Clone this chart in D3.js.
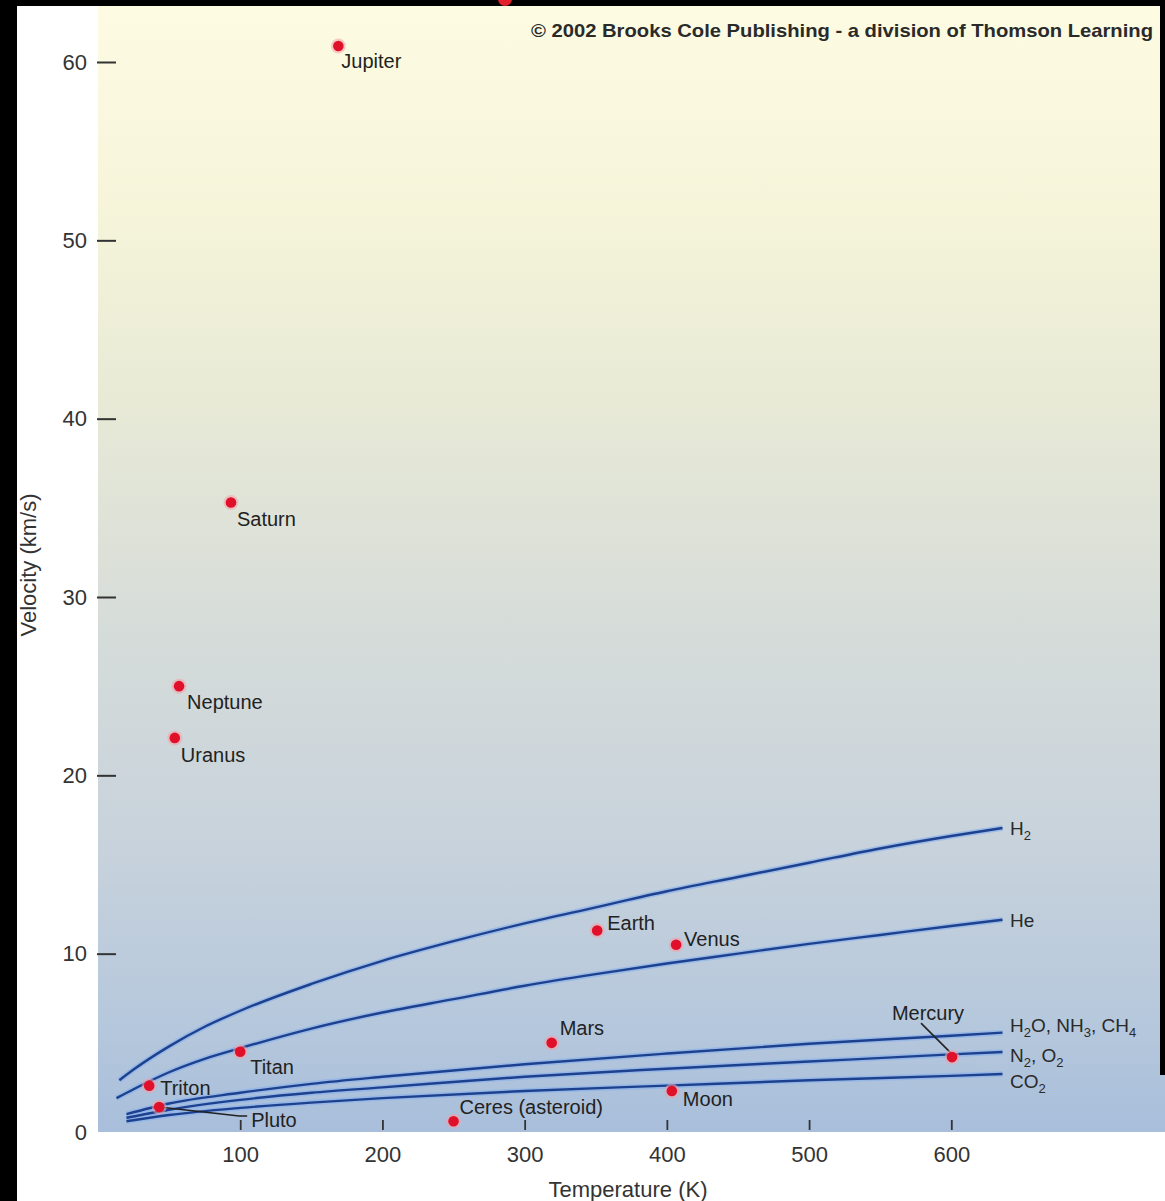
<!DOCTYPE html>
<html>
<head>
<meta charset="utf-8">
<script src="https://cdn.jsdelivr.net/npm/d3@7"></script>
<style>
  html, body { margin: 0; padding: 0; background: #000; }
  svg { display: block; }
  text { font-family: "Liberation Sans", Arial, Helvetica, sans-serif; fill: #222; }
</style>
</head>
<body>
<svg id="chart" width="1165" height="1201"></svg>
<script>
// ---------------- data ----------------
const bodyNames = ["Jupiter", "Saturn", "Neptune", "Uranus", "Earth", "Venus", "Mars",
                   "Mercury", "Moon", "Ceres (asteroid)", "Titan", "Triton", "Pluto"];
const bodyTemps = [169, 93.5, 57, 54, 351, 406.5, 319, 600.5, 403.5, 250, 100, 36, 43];
const bodyVels  = [60.9, 35.3, 25.0, 22.1, 11.3, 10.5, 5.0, 4.2, 2.3, 0.6, 4.5, 2.6, 1.4];

const h2Temps = [15, 25, 50, 75, 100, 150, 200, 250, 300, 350, 400, 450, 500, 550, 600, 636];
const h2Vels  = [2.9, 3.5, 4.8, 5.9, 6.8, 8.3, 9.6, 10.7, 11.7, 12.6, 13.5, 14.3, 15.1, 15.9, 16.6, 17.05];

const heTemps = [13, 25, 50, 75, 100, 150, 200, 250, 300, 350, 400, 450, 500, 550, 600, 636];
const heVels  = [1.9, 2.4, 3.35, 4.1, 4.7, 5.8, 6.7, 7.45, 8.2, 8.85, 9.45, 10.0, 10.55, 11.05, 11.55, 11.9];

const lowTemps = [20, 50, 100, 150, 200, 300, 400, 500, 600, 636];
const h2oVels  = [1.0, 1.6, 2.2, 2.7, 3.1, 3.8, 4.4, 4.95, 5.4, 5.57];
const n2Vels   = [0.8, 1.25, 1.8, 2.2, 2.5, 3.1, 3.55, 3.95, 4.35, 4.49];
const co2Vels  = [0.6, 0.95, 1.35, 1.65, 1.9, 2.3, 2.6, 2.9, 3.15, 3.25];

const xTicks = [100, 200, 300, 400, 500, 600];
const yTicks = [0, 10, 20, 30, 40, 50, 60];

const xTitle = "Temperature (K)";
const yTitle = "Velocity (km/s)";
const credit = "\u00A9 2002 Brooks Cole Publishing - a division of Thomson Learning";

// gas labels: [text, kind] pieces
const gasLabels = [
  [["H", ""], ["2", "sub"]],
  [["He", ""]],
  [["H", ""], ["2", "sub"], ["O, NH", ""], ["3", "sub"], [", CH", ""], ["4", "sub"]],
  [["N", ""], ["2", "sub"], [", O", ""], ["2", "sub"]],
  [["CO", ""], ["2", "sub"]]
];

// ---------------- layout ----------------
const W = 1165, H = 1201;
const plotL = 98, plotR = 1165, plotT = 6, plotB = 1132;

const x = d3.scaleLinear().domain([0, 600]).range([plotL, 951.3]);
const y = d3.scaleLinear().domain([0, 60]).range([plotB, 62]);

const svg = d3.select("#chart");
const defs = svg.append("defs");
const grad = defs.append("linearGradient").attr("id", "bg")
  .attr("x1", 0).attr("y1", 0).attr("x2", 0).attr("y2", 1);
[[0, "#fdfce3"], [0.18, "#f6f5da"], [0.35, "#e8ead6"], [0.55, "#d6dcd9"],
 [0.75, "#c7d2dc"], [0.9, "#b6c8dc"], [1, "#a8bedb"]].forEach(s =>
  grad.append("stop").attr("offset", s[0]).attr("stop-color", s[1]));

// frame
svg.append("rect").attr("width", W).attr("height", H).attr("fill", "#000");
svg.append("rect").attr("x", 17).attr("y", 6).attr("width", W - 17).attr("height", H - 6).attr("fill", "#fff");
svg.append("rect").attr("x", plotL).attr("y", plotT).attr("width", plotR - plotL).attr("height", plotB - plotT)
  .attr("fill", "url(#bg)");
svg.append("rect").attr("x", 1160).attr("y", 0).attr("width", 5).attr("height", 1075).attr("fill", "#000");
svg.append("circle").attr("cx", 505).attr("cy", -1).attr("r", 7).attr("fill", "#e3202b");

// credit
svg.append("text").attr("x", 1153).attr("y", 37).attr("text-anchor", "end")
  .attr("font-size", 19).attr("font-weight", "bold").style("fill", "#2a2a2a")
  .attr("textLength", 622).attr("lengthAdjust", "spacingAndGlyphs")
  .text(credit);

// y axis (ticks pointing into plot)
const gy = svg.append("g").attr("transform", `translate(${plotL - 1},0)`)
  .call(d3.axisRight(y).tickValues(yTicks).tickSize(19).tickFormat(d3.format("d")));
gy.select(".domain").remove();
gy.selectAll(".tick line").attr("stroke", "#333").attr("stroke-width", 2)
  .attr("display", d => d === 0 ? "none" : null);
gy.selectAll(".tick text").attr("x", -10).attr("text-anchor", "end")
  .attr("font-size", 22).attr("font-family", "Liberation Sans, Arial, sans-serif")
  .style("fill", "#333");

// x axis (ticks pointing into plot, labels below)
const gx = svg.append("g").attr("transform", `translate(0,${plotB})`)
  .call(d3.axisTop(x).tickValues(xTicks).tickSize(12).tickFormat(d3.format("d")));
gx.select(".domain").remove();
gx.selectAll(".tick line").attr("stroke", "#333").attr("stroke-width", 1.8).attr("y1", -2);
gx.selectAll(".tick text").attr("y", 30).attr("dy", 0)
  .attr("font-size", 22).attr("font-family", "Liberation Sans, Arial, sans-serif")
  .style("fill", "#333");

// axis titles
svg.append("text").attr("x", 628).attr("y", 1197).attr("text-anchor", "middle")
  .attr("font-size", 22).style("fill", "#333").text(xTitle);
svg.append("text").attr("transform", "translate(36,565) rotate(-90)").attr("text-anchor", "middle")
  .attr("font-size", 22).style("fill", "#333").text(yTitle);

// curves
const line = d3.line().x(d => x(d[0])).y(d => y(d[1])).curve(d3.curveMonotoneX);
const curves = [
  d3.zip(h2Temps, h2Vels),
  d3.zip(heTemps, heVels),
  d3.zip(lowTemps, h2oVels),
  d3.zip(lowTemps, n2Vels),
  d3.zip(lowTemps, co2Vels)
];
const gc = svg.append("g");
curves.forEach(c => {
  gc.append("path").attr("d", line(c)).attr("fill", "none")
    .attr("stroke", "#8db3ea").attr("stroke-width", 5.5).attr("stroke-opacity", 0.75);
});
curves.forEach(c => {
  gc.append("path").attr("d", line(c)).attr("fill", "none")
    .attr("stroke", "#1d418f").attr("stroke-width", 2.4);
});

// gas labels
const gasLabelY = [17.05, 11.9, 6.0, 4.3, 2.85];
gasLabels.forEach((parts, i) => {
  const t = svg.append("text").attr("x", 1010).attr("y", y(gasLabelY[i]) + 7)
    .attr("font-size", 19).style("fill", "#2a2a2a");
  parts.forEach((p, j) => {
    if (p[1] === "sub") {
      t.append("tspan").attr("font-size", 13).attr("dy", 5).text(p[0]);
    } else {
      const ts = t.append("tspan").text(p[0]);
      if (j > 0) ts.attr("dy", -5);
    }
  });
});

// label placement relative to each point: [dx, dy(center), anchor]
const labelLayout = {
  "Jupiter": [3, 15, "start"],
  "Saturn": [6, 17, "start"],
  "Neptune": [8, 16, "start"],
  "Uranus": [6, 17, "start"],
  "Earth": [10, -7, "start"],
  "Venus": [8, -6, "start"],
  "Mars": [8, -15, "start"],
  "Mercury": [-24, -44, "middle"],
  "Moon": [11, 8, "start"],
  "Ceres (asteroid)": [6, -14, "start"],
  "Titan": [10, 15, "start"],
  "Triton": [11, 2, "start"],
  "Pluto": [92, 13, "start"]
};

// leader lines
const pluto = bodyNames.indexOf("Pluto");
svg.append("path")
  .attr("d", `M${x(bodyTemps[pluto])},${y(bodyVels[pluto])} L${x(bodyTemps[pluto]) + 80},${y(bodyVels[pluto]) + 9} L${x(bodyTemps[pluto]) + 88},${y(bodyVels[pluto]) + 9}`)
  .attr("stroke", "#222").attr("stroke-width", 1.6).attr("fill", "none");
const merc = bodyNames.indexOf("Mercury");
svg.append("path")
  .attr("d", `M${x(bodyTemps[merc]) - 31},${y(bodyVels[merc]) - 34} L${x(bodyTemps[merc]) - 2},${y(bodyVels[merc]) - 5}`)
  .attr("stroke", "#222").attr("stroke-width", 1.6).attr("fill", "none");

// points
const gp = svg.append("g");
bodyNames.forEach((n, i) => {
  gp.append("circle").attr("cx", x(bodyTemps[i])).attr("cy", y(bodyVels[i])).attr("r", 7.5)
    .attr("fill", "#f4a0a8").attr("opacity", 0.55);
  gp.append("circle").attr("cx", x(bodyTemps[i])).attr("cy", y(bodyVels[i])).attr("r", 5.3)
    .attr("fill", "#e0102a");
});

// point labels
bodyNames.forEach((n, i) => {
  const L = labelLayout[n];
  svg.append("text").attr("x", x(bodyTemps[i]) + L[0]).attr("y", y(bodyVels[i]) + L[1] + 7)
    .attr("text-anchor", L[2]).attr("font-size", 20).style("fill", "#222").text(n);
});
</script>
</body>
</html>
